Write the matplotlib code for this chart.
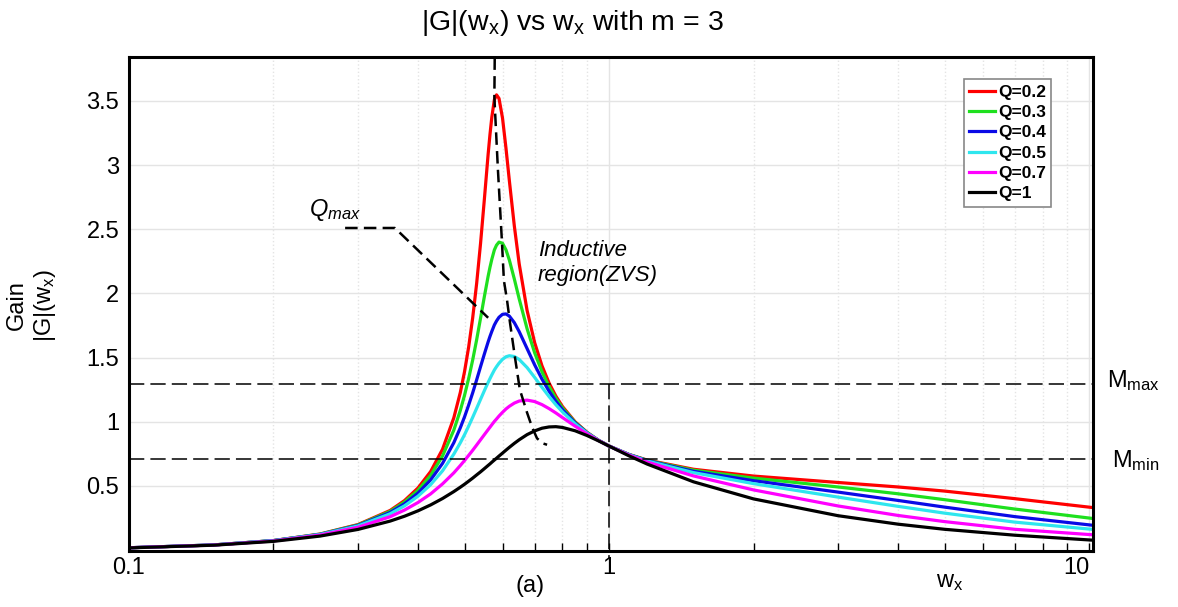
import matplotlib
matplotlib.use("Agg")
import matplotlib.pyplot as plt
from matplotlib.ticker import FixedLocator, NullFormatter


plt.rcParams["font.family"] = ["Liberation Sans", "DejaVu Sans"]
plt.rcParams["mathtext.fontset"] = "custom"
plt.rcParams["mathtext.rm"] = "Liberation Sans"
plt.rcParams["mathtext.it"] = "Liberation Sans:italic"

# normalised frequency w_x
wx = [0.10, 0.15, 0.20, 0.25, 0.30, 0.35, 0.375, 0.40, 0.425, 0.45,
      0.475, 0.49, 0.50, 0.51, 0.52, 0.53, 0.54, 0.55, 0.56, 0.565,
      0.57, 0.577, 0.583, 0.59, 0.60, 0.61, 0.62, 0.635, 0.65, 0.675,
      0.70, 0.725, 0.75, 0.775, 0.80, 0.85, 0.90, 0.95, 1.00, 1.10,
      1.20, 1.50, 2.00, 3.00, 4.00, 5.00, 7.00, 10.2]

gain_q02 = [0.017, 0.039, 0.073, 0.124, 0.198, 0.308, 0.385, 0.483, 0.611, 0.785,
            1.030, 1.227, 1.389, 1.581, 1.809, 2.078, 2.390, 2.735, 3.085, 3.240,
            3.374, 3.510, 3.548, 3.520, 3.367, 3.133, 2.879, 2.525, 2.230, 1.868,
            1.616, 1.436, 1.302, 1.199, 1.118, 0.999, 0.917, 0.856, 0.810, 0.745,
            0.701, 0.629, 0.576, 0.526, 0.491, 0.459, 0.400, 0.330]
gain_q03 = [0.017, 0.039, 0.073, 0.123, 0.195, 0.301, 0.374, 0.465, 0.581, 0.733,
            0.934, 1.087, 1.205, 1.336, 1.481, 1.639, 1.807, 1.976, 2.134, 2.204,
            2.266, 2.339, 2.376, 2.400, 2.391, 2.340, 2.260, 2.112, 1.957, 1.725,
            1.537, 1.390, 1.274, 1.182, 1.107, 0.995, 0.915, 0.856, 0.810, 0.744,
            0.699, 0.622, 0.560, 0.491, 0.438, 0.392, 0.319, 0.245]
gain_q04 = [0.017, 0.039, 0.073, 0.121, 0.191, 0.292, 0.360, 0.443, 0.546, 0.675,
            0.836, 0.952, 1.037, 1.129, 1.225, 1.326, 1.429, 1.528, 1.622, 1.665,
            1.704, 1.754, 1.785, 1.814, 1.837, 1.840, 1.823, 1.772, 1.702, 1.570,
            1.443, 1.332, 1.238, 1.159, 1.093, 0.990, 0.913, 0.855, 0.810, 0.744,
            0.697, 0.613, 0.540, 0.451, 0.386, 0.334, 0.260, 0.192]
gain_q05 = [0.017, 0.039, 0.072, 0.120, 0.187, 0.282, 0.344, 0.419, 0.509, 0.617,
            0.747, 0.835, 0.898, 0.965, 1.034, 1.104, 1.174, 1.242, 1.306, 1.336,
            1.365, 1.403, 1.429, 1.456, 1.486, 1.506, 1.514, 1.508, 1.485, 1.422,
            1.345, 1.268, 1.196, 1.132, 1.076, 0.983, 0.911, 0.855, 0.810, 0.743,
            0.694, 0.603, 0.517, 0.412, 0.340, 0.287, 0.217, 0.160]
gain_q07 = [0.017, 0.038, 0.070, 0.116, 0.177, 0.259, 0.311, 0.370, 0.437, 0.515,
            0.601, 0.658, 0.697, 0.737, 0.777, 0.818, 0.859, 0.899, 0.938, 0.957,
            0.976, 1.002, 1.021, 1.044, 1.073, 1.099, 1.120, 1.145, 1.161, 1.168,
            1.157, 1.133, 1.102, 1.068, 1.032, 0.965, 0.905, 0.854, 0.810, 0.740,
            0.686, 0.577, 0.468, 0.343, 0.269, 0.221, 0.161, 0.118]
gain_q1 = [0.016, 0.037, 0.067, 0.108, 0.160, 0.225, 0.263, 0.305, 0.351, 0.401,
           0.455, 0.489, 0.512, 0.536, 0.560, 0.585, 0.609, 0.634, 0.659, 0.671,
           0.684, 0.701, 0.715, 0.732, 0.755, 0.778, 0.800, 0.831, 0.859, 0.899,
           0.928, 0.949, 0.959, 0.961, 0.955, 0.929, 0.892, 0.851, 0.810, 0.734,
           0.670, 0.531, 0.398, 0.267, 0.201, 0.161, 0.115, 0.076]

series = [gain_q02, gain_q03, gain_q04, gain_q05, gain_q07, gain_q1]
labels = ["Q=0.2", "Q=0.3", "Q=0.4", "Q=0.5", "Q=0.7", "Q=1"]
colors = ["#ff0000", "#1ee01e", "#0a0ae6", "#2ee6ee", "#ff00ff", "#000000"]

# Qmax locus (peak line)
qmax_x = [0.578, 0.577, 0.587, 0.598, 0.604, 0.613, 0.622, 0.637, 0.652,
          0.675, 0.691, 0.708, 0.729, 0.743]
qmax_y = [3.84, 3.53, 2.96, 2.42, 2.10, 1.95, 1.77, 1.50, 1.25,
          1.07, 0.96, 0.87, 0.83, 0.82]

# leader from the Qmax label to the peak line
leader_x = [0.282, 0.358, 0.56]
leader_y = [2.51, 2.51, 1.81]

m_max = 1.29
m_min = 0.71

ytick_vals = [0.5, 1, 1.5, 2, 2.5, 3, 3.5]
ytick_labels = ["0.5", "1", "1.5", "2", "2.5", "3", "3.5"]

fig = plt.figure(figsize=(11.78, 6.07), dpi=100)
ax = fig.add_axes([0.1095, 0.0923, 0.8183, 0.8138])

ax.set_xscale("log")
ax.set_xlim(0.1, 10.19)
ax.set_ylim(-0.008, 3.843)

for y, lab, c in zip(series, labels, colors):
    ax.plot(wx, y, color=c, lw=2.3, label=lab)

ax.plot(qmax_x, qmax_y, color="black", lw=1.8, ls=(0, (5, 2.5)))

dash = (0, (10, 4))
ax.axhline(m_max, color="black", lw=1.1, ls=dash)
ax.axhline(m_min, color="black", lw=1.1, ls=dash)
ax.plot([1, 1], [m_max, -0.07], color="black", lw=1.1, ls=dash, clip_on=False)

ax.plot(leader_x, leader_y, color="black", lw=1.8, ls=(0, (5, 2.5)))
ax.text(0.237, 2.55, r"$Q_{max}$", fontsize=17, ha="left", va="bottom")
ax.text(0.711, 2.24, "Inductive\nregion(ZVS)", fontsize=16, style="italic",
        ha="left", va="center", linespacing=1.25)

ax.set_yticks(ytick_vals)
ax.set_yticklabels(ytick_labels)
ax.set_xticks([0.1, 1, 10])
ax.set_xticklabels(["0.1", "1", "10"])
ax.get_xticklabels()[-1].set_horizontalalignment("right")
ax.xaxis.set_minor_locator(FixedLocator([0.2, 0.3, 0.4, 0.5, 0.6, 0.7, 0.8, 0.9,
                                         2, 3, 4, 5, 6, 7, 8, 9]))
ax.xaxis.set_minor_formatter(NullFormatter())
ax.tick_params(axis="x", which="both", direction="in", length=6, width=1,
               labelsize=17, pad=4)
ax.tick_params(axis="y", which="both", direction="in", length=0,
               labelsize=17, pad=7)

ax.grid(True, axis="y", which="major", color="#e4e4e4", lw=1)
ax.grid(True, axis="x", which="major", color="#e4e4e4", lw=1)
ax.grid(True, axis="x", which="minor", color="#e4e4e4", lw=1, ls=":")
ax.set_axisbelow(True)

for s in ax.spines.values():
    s.set_linewidth(2.2)

leg = ax.legend(loc="upper right", bbox_to_anchor=(0.957, 0.955), borderaxespad=0,
                prop={"weight": "bold", "size": 12.5}, handlelength=1.5,
                handletextpad=0.2, labelspacing=0.3, borderpad=0.3,
                fancybox=False, framealpha=1)
leg.get_frame().set_edgecolor("#888888")
leg.get_frame().set_linewidth(1.2)

fig.text(572 / 1178, 1 - 23 / 607, r"|G|(w$_\mathregular{x}$) vs w$_\mathregular{x}$ with m = 3",
         fontsize=20.5, ha="center", va="center")
fig.text(32 / 1178, 1 - 305 / 607, "Gain\n|G|(w$_\\mathregular{x}$)", fontsize=17,
         rotation=90, ha="center", va="center", multialignment="center")
fig.text(530 / 1178, 1 - 586 / 607, "(a)", fontsize=17, ha="center", va="center")
fig.text(950 / 1178, 1 - 582 / 607, r"w$_\mathregular{x}$", fontsize=17, ha="center", va="center")
fig.text(1107 / 1178, 1 - 381 / 607, r"M$_\mathregular{max}$", fontsize=17, ha="left", va="center")
fig.text(1112 / 1178, 1 - 461 / 607, r"M$_\mathregular{min}$", fontsize=17, ha="left", va="center")

fig.savefig("out.png", dpi=100)
